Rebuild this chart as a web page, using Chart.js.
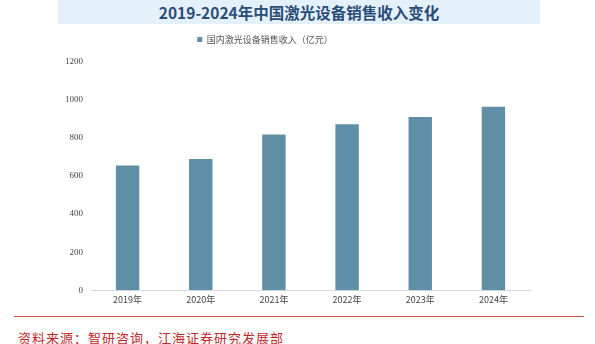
<!DOCTYPE html>
<html>
<head>
<meta charset="utf-8">
<script src="https://cdn.jsdelivr.net/npm/chart.js@4.4.0/dist/chart.umd.min.js"></script>
<style>
  html, body { margin: 0; padding: 0; background: #fff; }
  body { width: 595px; height: 344px; position: relative; overflow: hidden; font-family: "Noto Sans CJK SC", sans-serif; }
  #titleBand {
    position: absolute; left: 58px; top: 0; width: 482px; height: 24px;
    background: #e4f1fb; color: #2a4d78; font-weight: bold; font-size: 15.5px;
    text-align: center; line-height: 25px; font-family: "Noto Sans CJK SC", serif;
  }
  #chartBox { position: absolute; left: 0; top: 23px; width: 595px; height: 286px; }
  #redLine { position: absolute; left: 14px; top: 316px; width: 570px; height: 1px; background: #d9534f; }
  #source { position: absolute; left: 18px; top: 328px; font-size: 13px; color: #c0282d; font-family: "Noto Sans CJK SC", serif; letter-spacing: 1px; }
</style>
</head>
<body>
<div id="titleBand">2019-2024年中国激光设备销售收入变化</div>
<div id="chartBox"><canvas id="chart"></canvas></div>
<div id="redLine"></div>
<div id="source">资料来源：智研咨询，江海证券研究发展部</div>
<script>
// chart data
const years = ['2019年', '2020年', '2021年', '2022年', '2023年', '2024年'];
const revenue = [656, 690, 819, 873, 911, 965];
const seriesName = '国内激光设备销售收入（亿元）';
const yTicks = [0, 200, 400, 600, 800, 1000, 1200];

// extra room under the legend
const legendGap = {
  id: 'legendGap',
  beforeInit(chart) {
    const fit = chart.legend.fit;
    chart.legend.fit = function () {
      fit.bind(chart.legend)();
      this.height += 8;
    };
  }
};

const ctx = document.getElementById('chart').getContext('2d');
new Chart(ctx, {
  type: 'bar',
  data: {
    labels: years,
    datasets: [{
      label: seriesName,
      data: revenue,
      backgroundColor: '#5f8fa6',
      barPercentage: 0.32,
      categoryPercentage: 1.0
    }]
  },
  options: {
    responsive: true,
    maintainAspectRatio: false,
    animation: false,
    layout: { padding: { left: 0, right: 65, top: 0, bottom: 0 } },
    plugins: {
      legend: {
        display: true,
        labels: {
          boxWidth: 5,
          boxHeight: 5,
          color: '#555',
          font: { size: 9, family: '"Noto Sans CJK SC", sans-serif' },
          padding: 12
        }
      },
      tooltip: { enabled: false }
    },
    scales: {
      x: {
        grid: { display: false, drawTicks: false },
        border: { color: '#d9d9d9' },
        ticks: {
          color: '#444',
          font: { size: 9, family: '"Noto Sans CJK SC", sans-serif' },
          padding: 4
        }
      },
      y: {
        min: 0,
        max: 1200,
        afterBuildTicks: axis => { axis.ticks = yTicks.map(v => ({ value: v })); },
        grid: { display: false, drawTicks: false },
        border: { display: false },
        afterFit: axis => { axis.width = 91; },
        ticks: {
          color: '#444',
          font: { size: 9, family: '"Liberation Serif", serif' },
          padding: 8,
          callback: value => String(value)
        }
      }
    }
  },
  plugins: [legendGap]
});
</script>
</body>
</html>
